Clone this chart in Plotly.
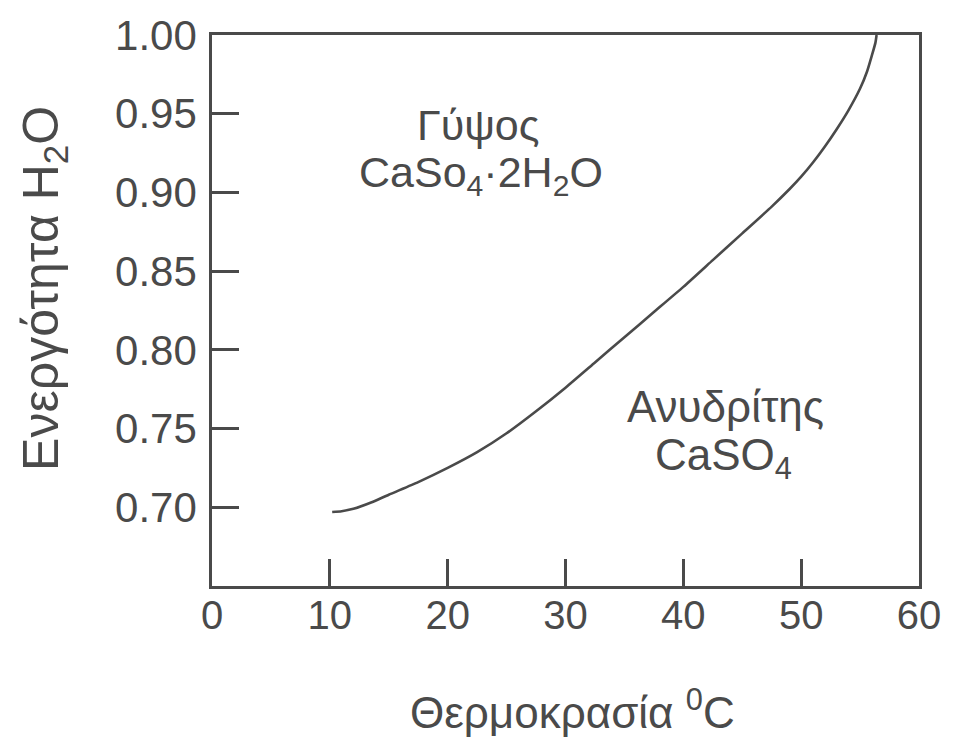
import plotly.graph_objects as go

# Phase boundary gypsum / anhydrite: temperature (°C) vs water activity
temp_c = [10.2, 11.0, 12.0, 13.5, 15.0, 17.5, 20.0, 22.5, 25.0, 27.5, 30.0,
          32.5, 35.0, 37.5, 40.0, 42.5, 45.0, 47.5, 49.0, 50.0, 51.0, 52.0,
          53.0, 54.0, 55.0, 55.6, 56.0, 56.3, 56.4]
activity = [0.697, 0.6975, 0.699, 0.703, 0.708, 0.716, 0.725, 0.735, 0.747, 0.761, 0.776,
            0.792, 0.808, 0.824, 0.840, 0.857, 0.874, 0.891, 0.902, 0.910, 0.919, 0.929,
            0.940, 0.952, 0.966, 0.977, 0.987, 0.995, 1.000]

x_ticks = [0, 10, 20, 30, 40, 50, 60]
y_ticks = [0.70, 0.75, 0.80, 0.85, 0.90, 0.95, 1.00]
y_tick_labels = ["0.70", "0.75", "0.80", "0.85", "0.90", "0.95", "1.00"]

label_gypsum_1 = "Γύψος"
label_gypsum_2 = "CaSo<sub>4</sub>·2H<sub>2</sub>O"
label_anhydrite_1 = "Ανυδρίτης"
label_anhydrite_2 = "CaSO<sub>4</sub>"
x_title = "Θερμοκρασία <sup>0</sup>C"
y_title = "Ενεργότητα H<sub>2</sub>O"

ink = "#4a4a4a"
font_family = "Liberation Sans, Arial, sans-serif"


def txt(size):
    return dict(size=size, color=ink, family=font_family)


fig = go.Figure()
fig.add_trace(go.Scatter(
    x=temp_c, y=activity, mode="lines",
    line=dict(color=ink, width=2.6, shape="spline", smoothing=0.5),
    showlegend=False, hoverinfo="skip",
))

fig.add_annotation(x=22.6, y=0.943, text=label_gypsum_1, showarrow=False, font=txt(43))
fig.add_annotation(x=22.8, y=0.911, text=label_gypsum_2, showarrow=False, font=txt(43))
fig.add_annotation(x=43.6, y=0.764, text=label_anhydrite_1, showarrow=False, font=txt(44))
fig.add_annotation(x=43.4, y=0.731, text=label_anhydrite_2, showarrow=False, font=txt(44))

fig.add_annotation(x=0.51, y=-0.224, xref="paper", yref="paper", text=x_title,
                   showarrow=False, font=txt(44), xanchor="center", yanchor="middle")
fig.add_annotation(x=-0.237, y=0.54, xref="paper", yref="paper", text=y_title,
                   showarrow=False, textangle=-90, font=txt(50),
                   xanchor="center", yanchor="middle")

axis_common = dict(
    showline=True, linecolor=ink, linewidth=2.6, mirror=True,
    showgrid=False, zeroline=False,
    ticks="inside", ticklen=27, tickwidth=2.6, tickcolor=ink,
)

fig.update_xaxes(range=[0, 60], tickvals=x_ticks, tickfont=txt(40),
                 ticklabelstandoff=-8, **axis_common)
fig.update_yaxes(range=[0.65, 1.00], tickvals=y_ticks, ticktext=y_tick_labels,
                 tickfont=txt(42), ticklabelstandoff=4, **axis_common)

fig.update_layout(
    width=953, height=741,
    margin=dict(l=212, r=24, t=34, b=155),
    paper_bgcolor="white", plot_bgcolor="white",
)

fig.write_html("out.html", config={"displayModeBar": False},
               post_script="document.body.style.margin='0';document.body.style.overflow='hidden';")
